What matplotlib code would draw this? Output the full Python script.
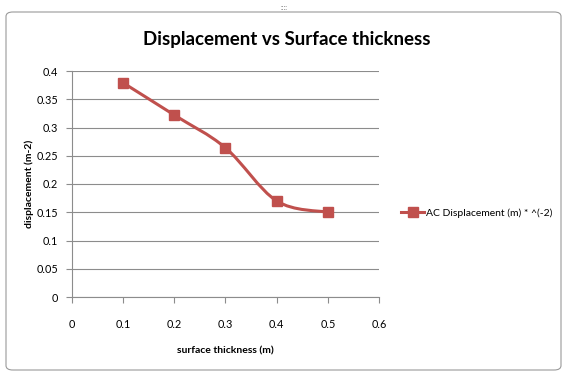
import matplotlib.pyplot as plt
import numpy as np
from matplotlib.path import Path
from matplotlib.patches import PathPatch, FancyBboxPatch
from matplotlib.lines import Line2D

plt.rcParams['font.family'] = ['Lato', 'DejaVu Sans']

thickness = [0.1, 0.2, 0.3, 0.4, 0.5]
displacement = [0.379, 0.322, 0.264, 0.170, 0.150]
x_ticks = [0, 0.1, 0.2, 0.3, 0.4, 0.5, 0.6]
y_ticks = [0, 0.05, 0.1, 0.15, 0.2, 0.25, 0.3, 0.35, 0.4]
series_name = 'AC Displacement (m) * ^(-2)'

red = '#C0504D'


def smooth_path(xs, ys, tension=1 / 6):
    # Catmull-Rom style bezier segments through the points, like a smoothed line
    xs = np.asarray(xs, float)
    ys = np.asarray(ys, float)
    pts = np.column_stack([xs, ys])
    verts = [pts[0]]
    codes = [Path.MOVETO]
    n = len(pts)
    for i in range(n - 1):
        p0 = pts[i - 1] if i > 0 else pts[i]
        p1 = pts[i]
        p2 = pts[i + 1]
        p3 = pts[i + 2] if i + 2 < n else pts[i + 1]
        c1 = p1 + (p2 - p0) * tension
        c2 = p2 - (p3 - p1) * tension
        verts += [c1, c2, p2]
        codes += [Path.CURVE4] * 3
    return Path(verts, codes)


fig = plt.figure(figsize=(5.68, 3.73), dpi=100)

# chart frame
frame = FancyBboxPatch((6 / 568, 3 / 373), 555 / 568, 358 / 373,
                       boxstyle='round,pad=0,rounding_size=0.012',
                       transform=fig.transFigure, fill=False,
                       edgecolor='#9a9a9a', linewidth=0.8)
fig.patches.append(frame)
fig.text(0.5, 1 - 7 / 373, '::::', ha='center', va='center', fontsize=5,
         color='#777777')

ax = fig.add_axes([72 / 568, 1 - 297 / 373, 307 / 568, 226 / 373])

ax.add_patch(PathPatch(smooth_path(thickness, displacement), fill=False,
                       edgecolor=red, linewidth=2.2))
ax.plot(thickness, displacement, linestyle='none', marker='s',
        markersize=6.5, color=red)

ax.set_xlim(0, 0.6)
ax.set_ylim(0, 0.4)
ax.set_xticks(x_ticks)
ax.set_xticklabels([f'{v:g}' for v in x_ticks])
ax.set_yticks(y_ticks)
ax.set_yticklabels([f'{v:g}' for v in y_ticks])
ax.yaxis.grid(True, color='#8c8c8c', linewidth=0.8)
ax.set_axisbelow(True)
for side in ['top', 'right']:
    ax.spines[side].set_visible(False)
for side in ['left', 'bottom']:
    ax.spines[side].set_color('#8c8c8c')
    ax.spines[side].set_linewidth(0.8)
ax.tick_params(axis='both', length=4, width=0.8, color='#8c8c8c',
               labelsize=7.8, labelcolor='black')
ax.tick_params(axis='x', pad=12)
ax.tick_params(axis='y', pad=6)

fig.text(287 / 568, 1 - 40 / 373, 'Displacement vs Surface thickness',
         fontsize=13.5, fontweight='bold', ha='center', va='center')
ax.set_xlabel('surface thickness (m)', fontsize=7.5, fontweight='bold',
              labelpad=12)
ax.set_ylabel('displacement (m-2)', fontsize=7.5, fontweight='bold',
              labelpad=2)

handle = Line2D([], [], color=red, linewidth=2.2, marker='s', markersize=6.5)
fig.legend([handle], [series_name], loc='center left',
           bbox_to_anchor=(392 / 568, 1 - 213 / 373), frameon=False,
           fontsize=7.5, handlelength=2.2, handletextpad=0.2)

fig.savefig('out.png', dpi=100)
